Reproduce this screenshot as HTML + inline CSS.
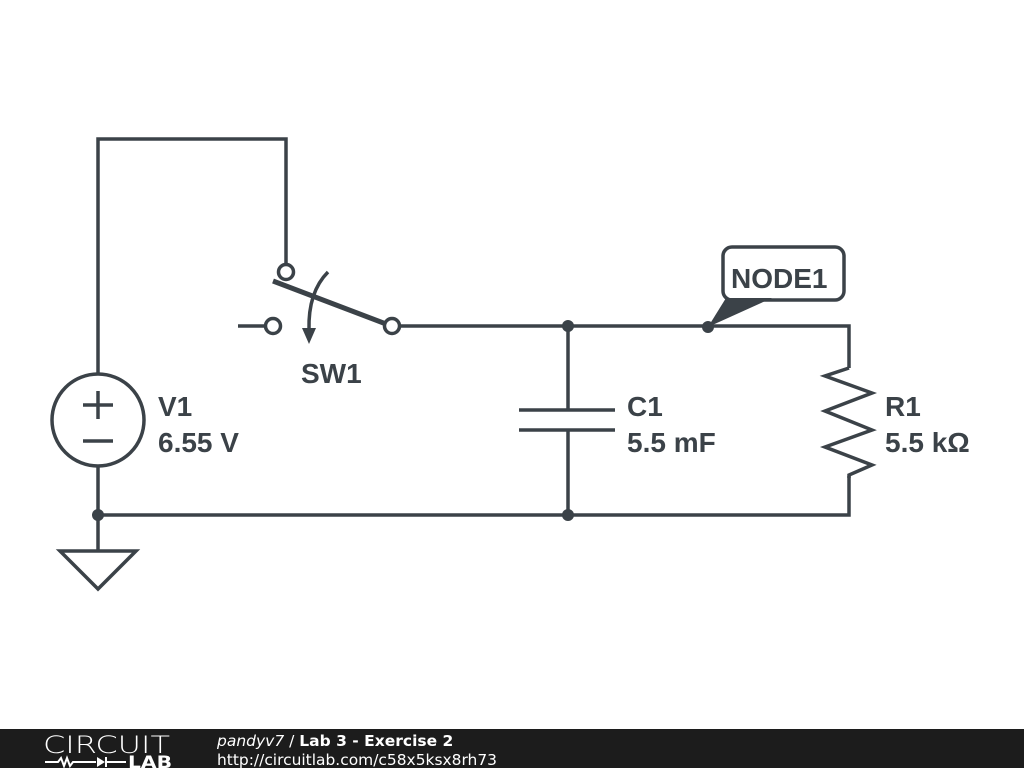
<!DOCTYPE html>
<html><head><style>
body{margin:0;width:1024px;height:768px;overflow:hidden;background:#fff}
svg{display:block}
</style></head><body>
<svg width="1024" height="768" viewBox="0 0 1024 768" xmlns="http://www.w3.org/2000/svg">
<g stroke="#3b4248" stroke-width="3.5" fill="none" stroke-linecap="butt">
<polyline points="98,373 98,139 286,139 286,265"/>
<circle cx="98" cy="420" r="46"/>
<line x1="83" y1="405" x2="113" y2="405"/><line x1="98" y1="391" x2="98" y2="419"/>
<line x1="83" y1="441" x2="113" y2="441"/>
<line x1="98" y1="467" x2="98" y2="551"/>
<polygon points="60,551 136,551 98,589"/>
<polyline points="98,515 849,515 849,476"/>
<circle cx="286" cy="272" r="7.5" fill="#fff"/>
<line x1="273" y1="281" x2="386" y2="324" stroke-width="5"/>
<line x1="238" y1="326" x2="266" y2="326"/>
<circle cx="273" cy="326" r="7.5" fill="#fff"/>
<circle cx="392" cy="326" r="7.5" fill="#fff"/>
<path d="M328,272 Q308,292 309,330"/>
<polyline points="399,326 849,326 849,368"/>
<polyline points="849,368 825,376 872,393 825,411 872,430 825,447 872,465 849,475 849,478"/>
<line x1="568" y1="326" x2="568" y2="410"/>
<line x1="568" y1="430" x2="568" y2="515"/>
<line x1="519" y1="410" x2="615" y2="410"/>
<line x1="519" y1="430" x2="615" y2="430"/>
<rect x="723" y="247" width="121" height="53" rx="9"/>
</g>
<g fill="#3b4248">
<polygon points="302,328 316,328 309,344"/>
<circle cx="98" cy="515" r="6"/>
<circle cx="568" cy="515" r="6"/>
<circle cx="568" cy="326" r="6"/>
<circle cx="708" cy="327" r="6"/>
<polygon points="726,298 772,298 708,327"/>
</g>
<g font-family="Liberation Sans, sans-serif" font-weight="bold" font-size="28" fill="#3b4248">
<text x="301" y="383">SW1</text>
<text x="158" y="416">V1</text>
<text x="158" y="452">6.55 V</text>
<text x="627" y="416">C1</text>
<text x="627" y="452">5.5 mF</text>
<text x="885" y="416">R1</text>
<text x="885" y="452">5.5 kΩ</text>
<text x="731" y="288">NODE1</text>
</g>
<rect x="0" y="729" width="1024" height="39" fill="#1c1c1c"/>
<g font-family="DejaVu Sans, sans-serif" fill="#fff">
<text x="43" y="753" font-size="24" font-weight="300" textLength="127" lengthAdjust="spacingAndGlyphs">CIRCUIT</text>
<text x="128" y="768" font-size="17" font-weight="bold" textLength="44" lengthAdjust="spacingAndGlyphs">LAB</text>
<text x="217" y="746" font-size="15.5"><tspan font-style="italic">pandyv7</tspan> / <tspan font-weight="bold">Lab 3 - Exercise 2</tspan></text>
<text x="217" y="765" font-size="15.5" textLength="280" lengthAdjust="spacingAndGlyphs">http://circuitlab.com/c58x5ksx8rh73</text>
</g>
<g stroke="#fff" stroke-width="2" fill="none">
<polyline points="45,762 58,762 61,758 64,766 67,758 70,766 73,762 96,762"/>
<line x1="106" y1="757" x2="106" y2="767"/><line x1="106" y1="762" x2="126" y2="762"/>
</g>
<polygon points="97,757 97,767 105,762" fill="#fff"/>
</svg>
</body></html>
